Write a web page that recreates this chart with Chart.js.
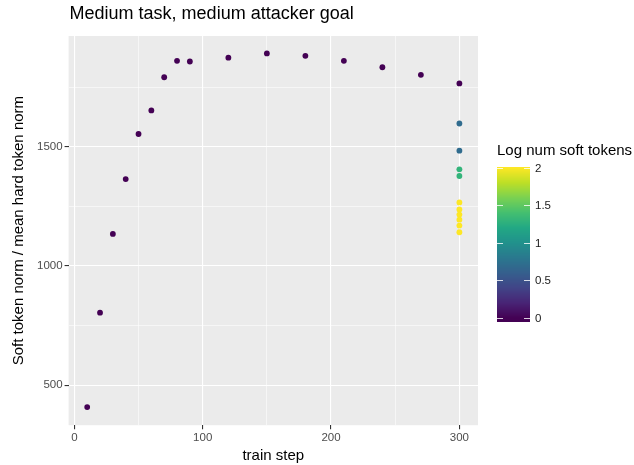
<!DOCTYPE html>
<html>
<head>
<meta charset="utf-8">
<script src="https://cdn.jsdelivr.net/npm/chart.js@4"></script>
<style>
  html, body { margin: 0; padding: 0; background: #ffffff; }
  #wrap { width: 634px; height: 465px; }
</style>
</head>
<body>
<div id="wrap"><canvas id="normChart" width="634" height="465"></canvas></div>
<script>
// datos
const steps = [10, 20, 30, 40, 50, 60, 70, 80, 90, 120, 150, 180, 210, 240, 270, 300,
               300, 300, 300, 300, 300, 300, 300, 300, 300, 300];
const norms = [408, 804, 1134, 1364, 1553, 1652, 1791, 1860, 1857, 1873, 1891, 1881, 1860, 1833, 1801, 1765,
               1597, 1483, 1405, 1377, 1266, 1237, 1215, 1194, 1169, 1141];
const logTokens = [0, 0, 0, 0, 0, 0, 0, 0, 0, 0, 0, 0, 0, 0, 0, 0,
                   0.7, 0.7, 1.3, 1.3, 2, 2, 2, 2, 2, 2];
const xTicks = [0, 50, 100, 150, 200, 250, 300];
const yTicks = [500, 750, 1000, 1250, 1500, 1750];
const legendTicks = [0, 0.5, 1, 1.5, 2];

const FONT = "'Liberation Sans', Arial, Helvetica, sans-serif";

// viridis aproximado
const viridisStops = ["#440154", "#482475", "#414487", "#355f8d", "#2a788e", "#21918c",
                      "#22a884", "#44bf70", "#7ad151", "#bddf26", "#fde725"];
function hexToRgb(h) {
    return [parseInt(h.slice(1, 3), 16), parseInt(h.slice(3, 5), 16), parseInt(h.slice(5, 7), 16)];
}
function viridis(t) {
    t = Math.max(0, Math.min(1, t));
    const pos = t * (viridisStops.length - 1);
    const i = Math.min(Math.floor(pos), viridisStops.length - 2);
    const f = pos - i;
    const a = hexToRgb(viridisStops[i]), b = hexToRgb(viridisStops[i + 1]);
    const c = a.map((v, k) => Math.round(v + (b[k] - v) * f));
    return `rgb(${c[0]}, ${c[1]}, ${c[2]})`;
}
const colorMin = 0, colorMax = 2;
const pointColors = logTokens.map(v => viridis((v - colorMin) / (colorMax - colorMin)));

// fondo gris del panel, titulo y barra de color
const ggPlugin = {
    id: 'ggPlugin',
    beforeDraw(chart) {
        const { ctx, chartArea: a } = chart;
        ctx.save();
        ctx.fillStyle = '#ebebeb';
        ctx.fillRect(a.left, a.top, a.right - a.left, a.bottom - a.top);
        ctx.restore();
    },
    afterDraw(chart) {
        const { ctx, chartArea: a } = chart;
        ctx.save();
        // titulo
        ctx.fillStyle = '#000';
        ctx.font = `18px ${FONT}`;
        ctx.textAlign = 'left';
        ctx.textBaseline = 'alphabetic';
        ctx.fillText('Medium task, medium attacker goal', a.left + 1, 19);

        // leyenda
        const barX = 497, barW = 33, barTop = 167, barBottom = 322;
        ctx.font = `15px ${FONT}`;
        ctx.fillText('Log num soft tokens', 497, 155);
        const yOf = v => 318 - (v - 0) * (318 - 167.7) / 2;
        for (let py = barTop; py < barBottom; py++) {
            const v = 0 + (318 - (py + 0.5)) / ((318 - 167.7) / 2);
            ctx.fillStyle = viridis((v - colorMin) / (colorMax - colorMin));
            ctx.fillRect(barX, py, barW, 1);
        }
        ctx.strokeStyle = 'rgba(255,255,255,0.8)';
        ctx.lineWidth = 1;
        ctx.font = `11.5px ${FONT}`;
        ctx.fillStyle = '#1a1a1a';
        ctx.textBaseline = 'middle';
        legendTicks.forEach(v => {
            const y = Math.round(yOf(v)) + 0.5;
            ctx.beginPath();
            ctx.moveTo(barX, y); ctx.lineTo(barX + 6, y);
            ctx.moveTo(barX + barW - 6, y); ctx.lineTo(barX + barW, y);
            ctx.stroke();
            ctx.fillText(String(v), 535, y);
        });
        ctx.restore();
    }
};

const normChart = new Chart(document.getElementById('normChart'), {
    type: 'scatter',
    data: {
        datasets: [{
            label: 'norm',
            data: steps.map((s, i) => ({ x: s, y: norms[i] })),
            backgroundColor: pointColors,
            borderColor: pointColors,
            borderWidth: 0,
            pointRadius: 2.9,
            pointHoverRadius: 2.9
        }]
    },
    options: {
        responsive: false,
        animation: false,
        devicePixelRatio: 1,
        layout: { padding: { top: 36, right: 156, bottom: 0, left: 10 } },
        plugins: {
            legend: { display: false },
            tooltip: { enabled: false },
            title: { display: false }
        },
        scales: {
            x: {
                type: 'linear',
                min: -4.5,
                max: 314.5,
                afterBuildTicks: s => { s.ticks = xTicks.map(v => ({ value: v })); },
                border: { display: false },
                grid: {
                    color: '#ffffff',
                    lineWidth: c => (c.tick && c.tick.value % 100 === 0) ? 1.1 : 0.55,
                    tickColor: c => (c.tick && c.tick.value % 100 === 0) ? '#333333' : 'rgba(0,0,0,0)',
                    tickLength: 4,
                    drawTicks: true
                },
                ticks: {
                    autoSkip: false,
                    maxRotation: 0,
                    padding: 2,
                    color: '#4d4d4d',
                    font: { family: FONT, size: 11.5 },
                    callback: v => (v % 100 === 0 ? String(v) : '')
                },
                title: {
                    display: true,
                    text: 'train step',
                    color: '#000',
                    font: { family: FONT, size: 15 },
                    padding: { top: 0, bottom: 0 }
                }
            },
            y: {
                type: 'linear',
                min: 332,
                max: 1964,
                afterBuildTicks: s => { s.ticks = yTicks.map(v => ({ value: v })); },
                border: { display: false },
                grid: {
                    color: '#ffffff',
                    lineWidth: c => (c.tick && c.tick.value % 500 === 0) ? 1.1 : 0.55,
                    tickColor: c => (c.tick && c.tick.value % 500 === 0) ? '#333333' : 'rgba(0,0,0,0)',
                    tickLength: 4,
                    drawTicks: true
                },
                ticks: {
                    autoSkip: false,
                    padding: 2,
                    color: '#4d4d4d',
                    font: { family: FONT, size: 11.5 },
                    callback: v => (v % 500 === 0 ? String(v) : '')
                },
                title: {
                    display: true,
                    text: 'Soft token norm / mean hard token norm',
                    color: '#000',
                    font: { family: FONT, size: 15 },
                    padding: { top: 0, bottom: 7 }
                }
            }
        }
    },
    plugins: [ggPlugin]
});
</script>
</body>
</html>
